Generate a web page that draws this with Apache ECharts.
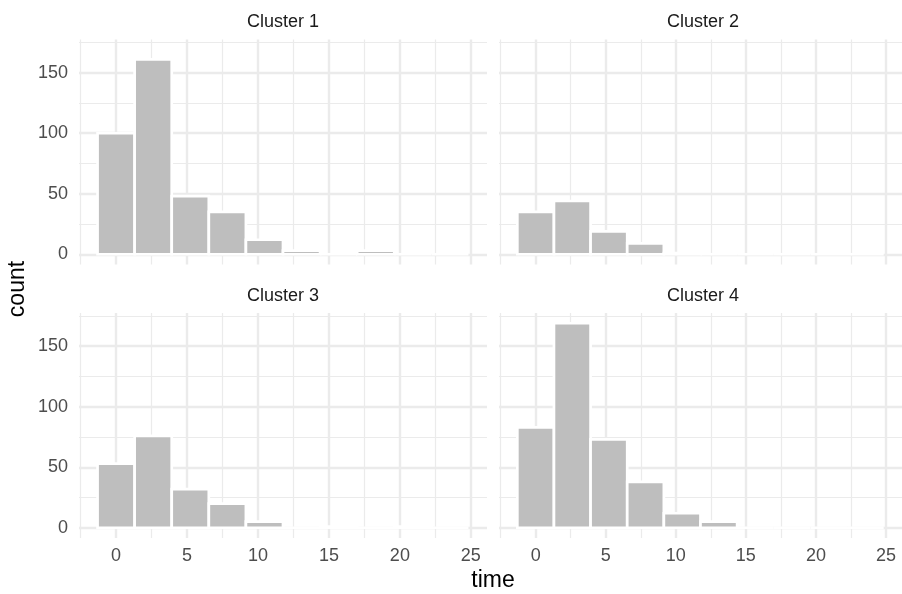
<!DOCTYPE html>
<html>
<head>
<meta charset="utf-8">
<script src="https://cdn.jsdelivr.net/npm/echarts@6/dist/echarts.min.js"></script>
<style>
  html, body { margin: 0; padding: 0; background: #ffffff; }
  #chart { width: 902px; height: 594px; }
</style>
</head>
<body>
<div id="chart"></div>
<script>
// ---- data ----
const panelTitles = ['Cluster 1', 'Cluster 2', 'Cluster 3', 'Cluster 4'];
const BIN_WIDTH = 2.614;
const binCenters = [0, 2.614, 5.228, 7.842, 10.456, 13.07, 15.684, 18.298, 20.912, 23.526];
const cluster1Counts = [100, 161, 48, 35, 12, 3, 0, 3, 0, 0];
const cluster2Counts = [35, 44, 19, 9, 1, 0, 0, 0, 0, 0];
const cluster3Counts = [53, 76, 32, 20, 5, 0, 1, 0, 1, 0];
const cluster4Counts = [83, 169, 73, 38, 12, 5, 0, 0, 0, 0];
const xMajorTicks = [0, 5, 10, 15, 20, 25];
const xMinorTicks = [-2.5, 2.5, 7.5, 12.5, 17.5, 22.5];
const yMajorTicks = [0, 50, 100, 150];
const yMinorTicks = [25, 75, 125, 175];
const xTitle = 'time';
const yTitle = 'count';

// ---- build ----
const allCounts = [cluster1Counts, cluster2Counts, cluster3Counts, cluster4Counts];
const FONT = "'Liberation Sans', Arial, sans-serif";
const GRID_COLOR = '#EBEBEB';

const dataLo = binCenters[0] - BIN_WIDTH / 2;
const dataHi = binCenters[binCenters.length - 1] + BIN_WIDTH / 2;
const xPad = (dataHi - dataLo) * 0.05;
const xMin = dataLo - xPad, xMax = dataHi + xPad;
const maxCount = Math.max(...allCounts.map(a => Math.max(...a)));
const yMin = -0.05 * maxCount, yMax = 1.05 * maxCount;

const panelBoxes = [
  { left: 79, top: 39.5, width: 408, height: 225 },
  { left: 499, top: 39.5, width: 408, height: 225 },
  { left: 79, top: 313, width: 408, height: 225 },
  { left: 499, top: 313, width: 408, height: 225 }
];

const grids = [], xAxes = [], yAxes = [], series = [];
panelBoxes.forEach((b, i) => {
  grids.push({ left: b.left, top: b.top, width: b.width, height: b.height, containLabel: false });
  const bottomRow = i >= 2;
  const leftCol = i % 2 === 0;
  xAxes.push({
    type: 'value', gridIndex: i, min: xMin, max: xMax,
    axisLine: { show: false },
    axisTick: { show: false, customValues: xMajorTicks },
    axisLabel: { show: bottomRow, customValues: xMajorTicks, color: '#4D4D4D', fontSize: 18, fontFamily: FONT, margin: 9 },
    splitLine: { show: true, lineStyle: { color: GRID_COLOR, width: 2.4 } }
  });
  xAxes.push({
    type: 'value', gridIndex: i, min: xMin, max: xMax, position: 'bottom',
    axisLine: { show: false },
    axisTick: { show: false, customValues: xMinorTicks },
    axisLabel: { show: false, customValues: xMinorTicks },
    splitLine: { show: true, lineStyle: { color: GRID_COLOR, width: 1.2 } }
  });
  yAxes.push({
    type: 'value', gridIndex: i, min: yMin, max: yMax,
    axisLine: { show: false },
    axisTick: { show: false, customValues: yMajorTicks },
    axisLabel: { show: leftCol, customValues: yMajorTicks, color: '#4D4D4D', fontSize: 18, fontFamily: FONT, margin: 11 },
    splitLine: { show: true, lineStyle: { color: GRID_COLOR, width: 2.4 } }
  });
  yAxes.push({
    type: 'value', gridIndex: i, min: yMin, max: yMax, position: 'left',
    axisLine: { show: false },
    axisTick: { show: false, customValues: yMinorTicks },
    axisLabel: { show: false, customValues: yMinorTicks },
    splitLine: { show: true, lineStyle: { color: GRID_COLOR, width: 1.2 } }
  });
  series.push({
    type: 'custom',
    xAxisIndex: 2 * i, yAxisIndex: 2 * i,
    data: binCenters.map((c, k) => [c, allCounts[i][k]]),
    z: 5,
    renderItem: function (params, api) {
      const c = api.value(0), n = api.value(1);
      const p0 = api.coord([c - BIN_WIDTH / 2, n]);
      const p1 = api.coord([c + BIN_WIDTH / 2, 0]);
      return {
        type: 'rect',
        shape: { x: p0[0], y: p0[1], width: p1[0] - p0[0], height: p1[1] - p0[1] },
        style: { fill: '#BEBEBE', stroke: '#FFFFFF', lineWidth: 2.7 }
      };
    }
  });
});

const graphics = panelBoxes.map((b, i) => ({
  type: 'text',
  x: b.left + 204, y: i < 2 ? 22 : 296,
  style: { text: panelTitles[i], font: '18px ' + FONT, fill: '#1A1A1A', textAlign: 'center', textVerticalAlign: 'middle' }
}));
graphics.push({
  type: 'text', x: 493, y: 581,
  style: { text: xTitle, font: '23px ' + FONT, fill: '#000000', textAlign: 'center', textVerticalAlign: 'middle' }
});
graphics.push({
  type: 'text', x: 18, y: 289, rotation: Math.PI / 2,
  style: { text: yTitle, font: '23px ' + FONT, fill: '#000000', textAlign: 'center', textVerticalAlign: 'middle' }
});

const chart = echarts.init(document.getElementById('chart'), null, { renderer: 'canvas' });
chart.setOption({
  animation: false,
  backgroundColor: '#FFFFFF',
  grid: grids,
  xAxis: xAxes,
  yAxis: yAxes,
  series: series,
  graphic: graphics
});
</script>
</body>
</html>
